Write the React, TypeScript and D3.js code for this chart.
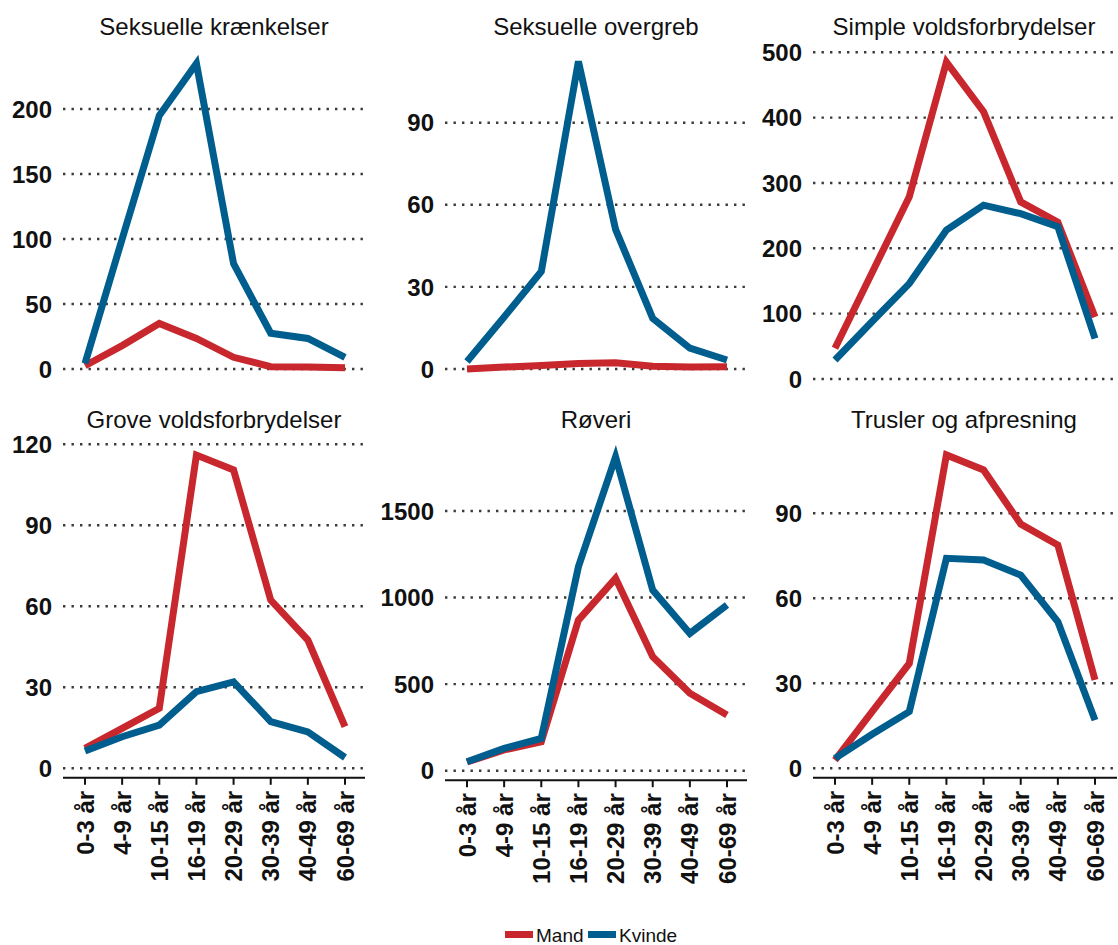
import React from 'react';
import * as d3 from 'd3';

// age groups on the x axis
const ageGroups = ['0-3 år', '4-9 år', '10-15 år', '16-19 år', '20-29 år', '30-39 år', '40-49 år', '60-69 år'];

const titles = [
  'Seksuelle krænkelser',
  'Seksuelle overgreb',
  'Simple voldsforbrydelser',
  'Grove voldsforbrydelser',
  'Røveri',
  'Trusler og afpresning',
];

const mandKraenkelser = [2.5, 18, 35, 23.5, 9, 1.8, 1.5, 1];
const kvindeKraenkelser = [4.3, 100, 195, 235, 81, 27.5, 23.5, 9];
const mandOvergreb = [0, 0.7, 1.3, 2, 2.3, 1, 0.7, 0.8];
const kvindeOvergreb = [2.7, 19, 35.6, 112.4, 51, 18.5, 7.6, 3.3];
const mandSimple = [47, 163, 279, 485, 409, 271, 240, 95];
const kvindeSimple = [29, 88, 146, 228, 266, 253, 233, 62];
const mandGrove = [7.4, 14.8, 22.2, 116, 110.5, 62.3, 47.5, 15.4];
const kvindeGrove = [6.4, 11.7, 16, 28.4, 32, 17.3, 13.5, 4];
const mandRoveri = [50, 120, 167, 870, 1111, 658, 447, 322];
const kvindeRoveri = [52, 129, 187, 1178, 1813, 1043, 793, 957];
const mandTrusler = [2.9, 20, 37, 110.6, 105.3, 86.2, 78.8, 31.2];
const kvindeTrusler = [3.5, 12, 20, 74.1, 73.5, 68.2, 51.7, 17];

const ticksKraenkelser = [0, 50, 100, 150, 200];
const ticksOvergreb = [0, 30, 60, 90];
const ticksSimple = [0, 100, 200, 300, 400, 500];
const ticksGrove = [0, 30, 60, 90, 120];
const ticksRoveri = [0, 500, 1000, 1500];
const ticksTrusler = [0, 30, 60, 90];

const seriesNames = ['Mand', 'Kvinde'];
const colors = ['#C8282D', '#005E8F'];

const FONT = '"Liberation Sans", Arial, Helvetica, sans-serif';

// layout per panel: grid start, zero pixel, a reference value and its pixel
const panels = [
  { title: titles[0], mand: mandKraenkelser, kvinde: kvindeKraenkelser, ticks: ticksKraenkelser, left: 63, width: 300, zeroY: 369, refVal: 200, refY: 109, titleY: 35, axis: false },
  { title: titles[1], mand: mandOvergreb, kvinde: kvindeOvergreb, ticks: ticksOvergreb, left: 445, width: 300, zeroY: 369, refVal: 90, refY: 122.7, titleY: 35, axis: false },
  { title: titles[2], mand: mandSimple, kvinde: kvindeSimple, ticks: ticksSimple, left: 813, width: 303, zeroY: 379, refVal: 500, refY: 52.3, titleY: 35, axis: false },
  { title: titles[3], mand: mandGrove, kvinde: kvindeGrove, ticks: ticksGrove, left: 63, width: 302, zeroY: 768.3, refVal: 120, refY: 444.3, titleY: 428, axis: true },
  { title: titles[4], mand: mandRoveri, kvinde: kvindeRoveri, ticks: ticksRoveri, left: 445, width: 302, zeroY: 770.7, refVal: 1500, refY: 511, titleY: 428, axis: true },
  { title: titles[5], mand: mandTrusler, kvinde: kvindeTrusler, ticks: ticksTrusler, left: 813, width: 304, zeroY: 768.3, refVal: 90, refY: 513.3, titleY: 428, axis: true },
];

const Panel: React.FC<{ p: typeof panels[number] }> = ({ p }) => {
  const x = d3.scalePoint<string>().domain(ageGroups).range([p.left + 22, p.left + 282]);
  const y = d3.scaleLinear().domain([0, p.refVal]).range([p.zeroY, p.refY]);
  const line = d3.line<number>()
    .x((_, i) => x(ageGroups[i]) as number)
    .y(d => y(d));
  const axisY = p.zeroY + 9.5;

  return (
    <g>
      <text
        x={p.left + 151}
        y={p.titleY}
        textAnchor="middle"
        fontFamily={FONT}
        fontSize={24}
        fill="#111"
      >
        {p.title}
      </text>

      {/* dotted gridlines */}
      {p.ticks.map(t => (
        <g key={t}>
          <line
            x1={p.left}
            x2={p.left + p.width}
            y1={y(t)}
            y2={y(t)}
            stroke="#3a3a3a"
            strokeWidth={2.4}
            strokeDasharray="2.4 6.1"
          />
          <text
            x={p.left - 11}
            y={y(t)}
            dy="0.36em"
            textAnchor="end"
            fontFamily={FONT}
            fontWeight="bold"
            fontSize={24}
            fill="#111"
          >
            {t}
          </text>
        </g>
      ))}

      {/* bottom axis */}
      {p.axis && (
        <g>
          <line x1={p.left} x2={p.left + p.width} y1={axisY} y2={axisY} stroke="#111" strokeWidth={2} />
          {ageGroups.map(a => (
            <g key={a}>
              <line x1={x(a)} x2={x(a)} y1={axisY} y2={axisY + 7} stroke="#111" strokeWidth={2} />
              <text
                transform={`translate(${x(a)},${axisY + 13}) rotate(-90)`}
                dy="0.36em"
                textAnchor="end"
                fontFamily={FONT}
                fontWeight="bold"
                fontSize={24}
                fill="#111"
              >
                {a}
              </text>
            </g>
          ))}
        </g>
      )}

      {[p.mand, p.kvinde].map((s, i) => (
        <path
          key={i}
          d={line(s) || undefined}
          fill="none"
          stroke={colors[i]}
          strokeWidth={7}
          strokeLinejoin="miter"
        />
      ))}
    </g>
  );
};

const App: React.FC = () => {
  const legendX = [505, 588];
  return (
    <svg
      width={1118}
      height={945}
      viewBox="0 0 1118 945"
      style={{ position: 'absolute', left: 0, top: 0, background: '#fff' }}
    >
      <rect width={1118} height={945} fill="#fff" />
      {panels.map((p, i) => (
        <Panel key={i} p={p} />
      ))}

      {/* legend */}
      {seriesNames.map((name, i) => (
        <g key={name}>
          <rect x={legendX[i]} y={931} width={28} height={7} fill={colors[i]} />
          <text
            x={legendX[i] + 31}
            y={942}
            fontFamily={FONT}
            fontSize={19}
            fill="#111"
          >
            {name}
          </text>
        </g>
      ))}
    </svg>
  );
};

export default App;
